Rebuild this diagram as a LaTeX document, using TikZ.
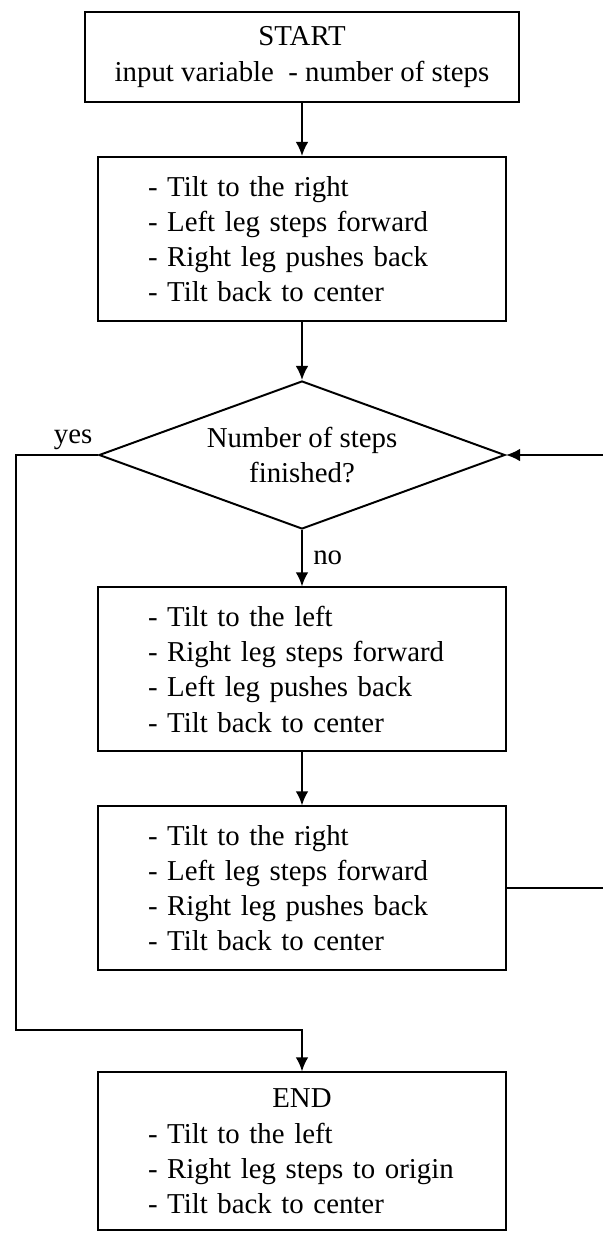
\documentclass[tikz,border=0pt]{standalone}
\usepackage{fontspec}
\setmainfont{Liberation Serif}
\usetikzlibrary{arrows.meta,shapes.geometric}
\tikzstyle{block} = [draw, rectangle, line width=1.4pt,
    minimum width=10.2cm, minimum height=4.1cm,
    text width=7.7cm, inner xsep=1.25cm, align=left]
\tikzstyle{terminal} = [draw, rectangle, line width=1.4pt,
    minimum width=10.85cm, minimum height=2.25cm, align=center]
\tikzstyle{decision} = [draw, diamond, line width=1.4pt, aspect=2.7,
    inner sep=0pt, minimum width=10.15cm, minimum height=3.7cm, align=center]
\tikzstyle{wire} = [line width=1.4pt]

\begin{document}
\begin{tikzpicture}[node distance=5.4cm, >={Latex[length=10pt,width=9pt]},
    font=\fontsize{20.5}{25}\selectfont]
    \useasboundingbox (0,0) rectangle (15.075,-30.825);
    \node [terminal] (start) at (7.55,-1.425) {START\\input variable\ \ - number of steps};
    \node [block, below of=start, node distance=4.55cm] (rightstep) {- Tilt to the right\\- Left leg steps forward\\- Right leg pushes back\\- Tilt back to center};
    \node [decision, below of=rightstep] (check) {Number of steps\\finished?};
    \node [block, below of=check, node distance=5.36cm] (leftstep) {- Tilt to the left\\- Right leg steps forward\\- Left leg pushes back\\- Tilt back to center};
    \node [block, below of=leftstep, node distance=5.475cm] (rightagain) {- Tilt to the right\\- Left leg steps forward\\- Right leg pushes back\\- Tilt back to center};
    \node [block, below of=rightagain, minimum height=3.95cm,
            node distance=6.575cm] (finish) {\makebox[7.7cm]{END}\\- Tilt to the left\\- Right leg steps to origin\\- Tilt back to center};
    \coordinate (yesbot) at (0.4,-25.75);
    \draw [->,wire] (start) -- (rightstep);
    \draw [->,wire] (rightstep) -- (check);
    \draw [->,wire] (check) -- node [right=4pt] {no} (leftstep);
    \draw [->,wire] (leftstep) -- (rightagain);
    \draw [->,wire] (check.west) -| node [pos=0, above left] {yes} (yesbot) -| (finish);
    \draw [->,wire] (rightagain.east) -- ++(2.5,0) |- (check.east);
\end{tikzpicture}
\end{document}
